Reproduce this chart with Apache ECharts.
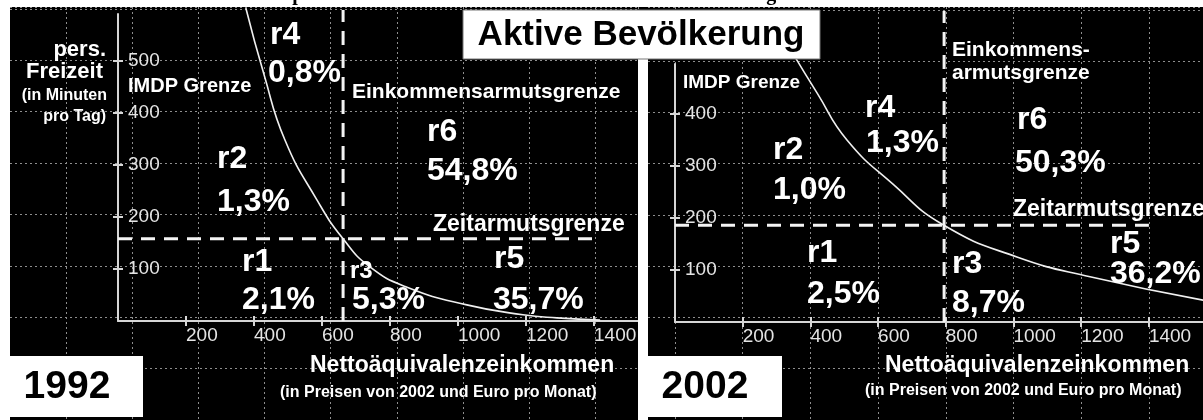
<!DOCTYPE html>
<html><head><meta charset="utf-8">
<script src="https://cdn.jsdelivr.net/npm/echarts@6/dist/echarts.min.js"></script>
<style>html,body{margin:0;padding:0;background:#000}#c{width:1203px;height:420px}</style>
</head><body><div id="c"></div>
<script>
// ---------------- data ----------------
const regionNames = ['r1', 'r2', 'r3', 'r4', 'r5', 'r6'];
const shares1992 = [2.1, 1.3, 5.3, 0.8, 35.7, 54.8];
const shares2002 = [2.5, 1.0, 8.7, 1.3, 36.2, 50.3];
const incomeLine1992 = 662;   // Einkommensarmutsgrenze (Euro / Monat)
const incomeLine2002 = 795;
const timeLine1992 = 158;     // Zeitarmutsgrenze (Minuten / Tag)
const timeLine2002 = 186;
const timeLineEnd = 1400;     // horizontal dashed line drawn up to this income
const incomeLineTop = 598;    // vertical dashed line drawn up to this time
const imdpIncome1992 = [376, 429, 491, 585, 662, 741, 850, 1026, 1191, 1291, 1418];
const imdpTime1992   = [602, 475, 348, 233, 158, 104, 65, 31, 12, 6, 2];
const imdpIncome2002 = [345, 420, 508, 644, 792, 1010, 1226, 1560];
const imdpTime2002   = [520, 440, 350, 265, 187, 125, 87, 42];
const xTicks = [200, 400, 600, 800, 1000, 1200, 1400];
const yTicks = [100, 200, 300, 400, 500];

// ---------------- layout ----------------
const F = '"Liberation Sans", Arial, Helvetica, sans-serif';
const W = 1203, H = 420;
const L = {ox: 118, oy: 321, kx: 68 / 200, ky: 52 / 100, right: 638, axisTop: 14};
const R = {ox: 675, oy: 322, kx: 67.7 / 200, ky: 52 / 100, left: 648, right: 1203, axisTop: 64};
const TOP = 7;
const GRIDCOL = '#8e8e8e';
const AXCOL = '#d6d6d6';

function gridRect(x1, y1, x2, y2) {
  return {left: x1, top: y1, width: x2 - x1, height: y2 - y1, containLabel: false};
}
const grids = [
  gridRect(L.ox - 400 * L.kx, TOP, L.right, L.oy + 200 * L.ky),      // 0 left background
  gridRect(L.ox, L.axisTop, L.right, L.oy),                          // 1 left axes
  gridRect(R.left, TOP, R.right, R.oy + 200 * R.ky),                 // 2 right horizontal bg
  gridRect(R.ox, TOP, R.right, H),                                   // 3 right vertical bg
  gridRect(R.ox, R.axisTop, R.right, R.oy)                           // 4 right axes
];
const dotted = {show: true, lineStyle: {color: GRIDCOL, width: 1, type: [2, 3]}};
const hiddenParts = {axisLine: {show: false}, axisTick: {show: false}, axisLabel: {show: false}};
function bgX(gi, min, max, split) {
  return Object.assign({type: 'value', gridIndex: gi, min, max, interval: 200, splitLine: split ? dotted : {show: false}}, hiddenParts);
}
function bgY(gi, min, max, split) {
  return Object.assign({type: 'value', gridIndex: gi, min, max, interval: 100, splitLine: split ? dotted : {show: false}}, hiddenParts);
}
const plain = v => String(Math.round(v));
const labelStyle = {color: '#e4e4e4', fontFamily: F, fontSize: 19, formatter: plain};
function axX(gi, max) {
  return {type: 'value', gridIndex: gi, position: 'bottom', min: 0, max,
    axisLine: {show: true, onZero: false, lineStyle: {color: AXCOL, width: 2}},
    axisTick: {show: true, length: 5, customValues: xTicks, lineStyle: {color: AXCOL, width: 2}},
    axisLabel: Object.assign({show: true, customValues: xTicks, align: 'left', margin: 5}, labelStyle),
    splitLine: {show: false}};
}
function axY(gi, max) {
  return {type: 'value', gridIndex: gi, position: 'left', min: 0, max,
    axisLine: {show: true, onZero: false, lineStyle: {color: AXCOL, width: 2}},
    axisTick: {show: true, length: 5, customValues: yTicks.filter(v => v <= max), lineStyle: {color: AXCOL, width: 2}},
    axisLabel: Object.assign({show: true, inside: true, customValues: yTicks.filter(v => v <= max), margin: 10}, labelStyle),
    splitLine: {show: false}};
}
function inX(gi, max) {
  return {type: 'value', gridIndex: gi, position: 'bottom', min: 0, max,
    axisLine: {show: false}, axisLabel: {show: false}, splitLine: {show: false},
    axisTick: {show: true, inside: true, length: 5, customValues: xTicks, lineStyle: {color: AXCOL, width: 2}}};
}
function inY(gi, max) {
  return {type: 'value', gridIndex: gi, position: 'left', min: 0, max,
    axisLine: {show: false}, axisLabel: {show: false}, splitLine: {show: false},
    axisTick: {show: true, inside: true, length: 5, customValues: yTicks.filter(v => v <= max), lineStyle: {color: AXCOL, width: 2}}};
}
const LxMax = (L.right - L.ox) / L.kx;
const LyMax = (L.oy - L.axisTop) / L.ky;
const RxMax = (R.right - R.ox) / R.kx;
const RyMax = (R.oy - R.axisTop) / R.ky;

const xAxes = [
  bgX(0, -400, LxMax, true),
  axX(1, LxMax),
  Object.assign(bgX(2, 0, 1, false), {show: false}),
  bgX(3, 0, RxMax, true),
  axX(4, RxMax),
  inX(1, LxMax),
  inX(4, RxMax)
];
const yAxes = [
  bgY(0, -200, (L.oy - TOP) / L.ky, true),
  axY(1, LyMax),
  bgY(2, -200, (R.oy - TOP) / R.ky, true),
  Object.assign(bgY(3, 0, 1, false), {show: false}),
  axY(4, RyMax),
  inY(1, LyMax),
  inY(4, RyMax)
];

function zip(a, b) { return a.map((v, i) => [v, b[i]]); }
const curveStyle = {color: '#f0f0f0', width: 1.6};
const dashStyle = {color: '#f4f4f4', width: 3, type: [14, 9]};
function lineSeries(axisIdx, data, style, smooth) {
  return {type: 'line', xAxisIndex: axisIdx, yAxisIndex: axisIdx, data, showSymbol: false, symbol: 'none',
    smooth: smooth || false, clip: false, silent: true, lineStyle: style, z: 3};
}
const series = [
  lineSeries(1, zip(imdpIncome1992, imdpTime1992), curveStyle, 0.5),
  lineSeries(1, [[incomeLine1992, 0], [incomeLine1992, incomeLineTop]], dashStyle),
  lineSeries(1, [[0, timeLine1992], [timeLineEnd, timeLine1992]], dashStyle),
  lineSeries(4, zip(imdpIncome2002, imdpTime2002), curveStyle, 0.5),
  lineSeries(4, [[incomeLine2002, 0], [incomeLine2002, incomeLineTop]], dashStyle),
  lineSeries(4, [[0, timeLine2002], [timeLineEnd, timeLine2002]], dashStyle)
];

// ---------------- annotations ----------------
function fmt(v) { return v.toFixed(1).replace('.', ',') + '%'; }
function txt(x, y, s, size, o) {
  o = o || {};
  const align = o.align || 'left';
  const va = o.va || 'middle';
  return {type: 'text', x, y, z: 100, silent: true,
    style: {text: s, font: (o.weight || 'bold') + ' ' + size + 'px ' + (o.family || F), fill: o.fill || '#ffffff',
      align, verticalAlign: va, textAlign: align, textVerticalAlign: va}};
}
function rect(x, y, w, h, o) {
  o = o || {};
  return {type: 'rect', z: 90, silent: true, shape: {x, y, width: w, height: h},
    style: {fill: '#ffffff', stroke: o.stroke || null, lineWidth: o.stroke ? 1 : 0}};
}
// pixel positions of the region labels: [nameX, nameY, shareX, shareY]
const pos1992 = [[242, 262, 242, 300], [217, 159, 217, 202], [350, 271, 352, 300], [270, 35, 268, 73], [494, 259, 493, 300], [427, 132, 427, 171]];
const pos2002 = [[807, 253, 807, 294], [773, 150, 773, 190], [952, 264, 952, 303], [865, 108, 866, 143], [1110, 244, 1110, 274], [1017, 120, 1015, 163]];
const nameSize1992 = [32, 32, 24, 32, 32, 32];

const graphics = [
  rect(0, 0, W, TOP),
  rect(0, 0, 10, H),
  rect(638, 59, 10, H - 59),
  rect(463, 10, 357, 49, {stroke: '#777'}),
  rect(10, 356, 133, 61),
  rect(648, 356, 134, 61),
  txt(507, -5, 'Interdependente Einkommens- und Zeitarmut der Erwerbstätige', 20, {align: 'center', fill: '#000', family: '"Liberation Serif", "Times New Roman", serif'}),
  txt(641, 35, 'Aktive Bevölkerung', 35, {align: 'center', fill: '#000'}),
  txt(67, 387, '1992', 39, {align: 'center', fill: '#000'}),
  txt(705, 387, '2002', 39, {align: 'center', fill: '#000'}),
  // left panel axis titles
  txt(106, 50, 'pers.', 22, {align: 'right'}),
  txt(103, 72, 'Freizeit', 22, {align: 'right'}),
  txt(107, 96, '(in Minuten', 16, {align: 'right'}),
  txt(106, 117, 'pro Tag)', 16, {align: 'right'}),
  txt(128, 86, 'IMDP Grenze', 20),
  txt(352, 92, 'Einkommensarmutsgrenze', 21),
  txt(433, 225, 'Zeitarmutsgrenze', 23),
  txt(310, 366, 'Nettoäquivalenzeinkommen', 23),
  txt(280, 393, '(in Preisen von 2002 und Euro pro Monat)', 16),
  // right panel
  txt(683, 83, 'IMDP Grenze', 19),
  txt(952, 50, 'Einkommens-', 21),
  txt(952, 73, 'armutsgrenze', 21),
  txt(1013, 210, 'Zeitarmutsgrenze', 23),
  txt(885, 366, 'Nettoäquivalenzeinkommen', 23),
  txt(865, 391, '(in Preisen von 2002 und Euro pro Monat)', 16)
];
regionNames.forEach((n, i) => {
  const p = pos1992[i];
  graphics.push(txt(p[0], p[1], n, nameSize1992[i]));
  graphics.push(txt(p[2], p[3], fmt(shares1992[i]), 32));
  const q = pos2002[i];
  graphics.push(txt(q[0], q[1], n, 32));
  graphics.push(txt(q[2], q[3], fmt(shares2002[i]), 32));
});

const chart = echarts.init(document.getElementById('c'), null, {renderer: 'canvas'});
chart.setOption({
  backgroundColor: '#000000',
  animation: false,
  grid: grids,
  xAxis: xAxes,
  yAxis: yAxes,
  series,
  graphic: {elements: graphics}
});
</script></body></html>
